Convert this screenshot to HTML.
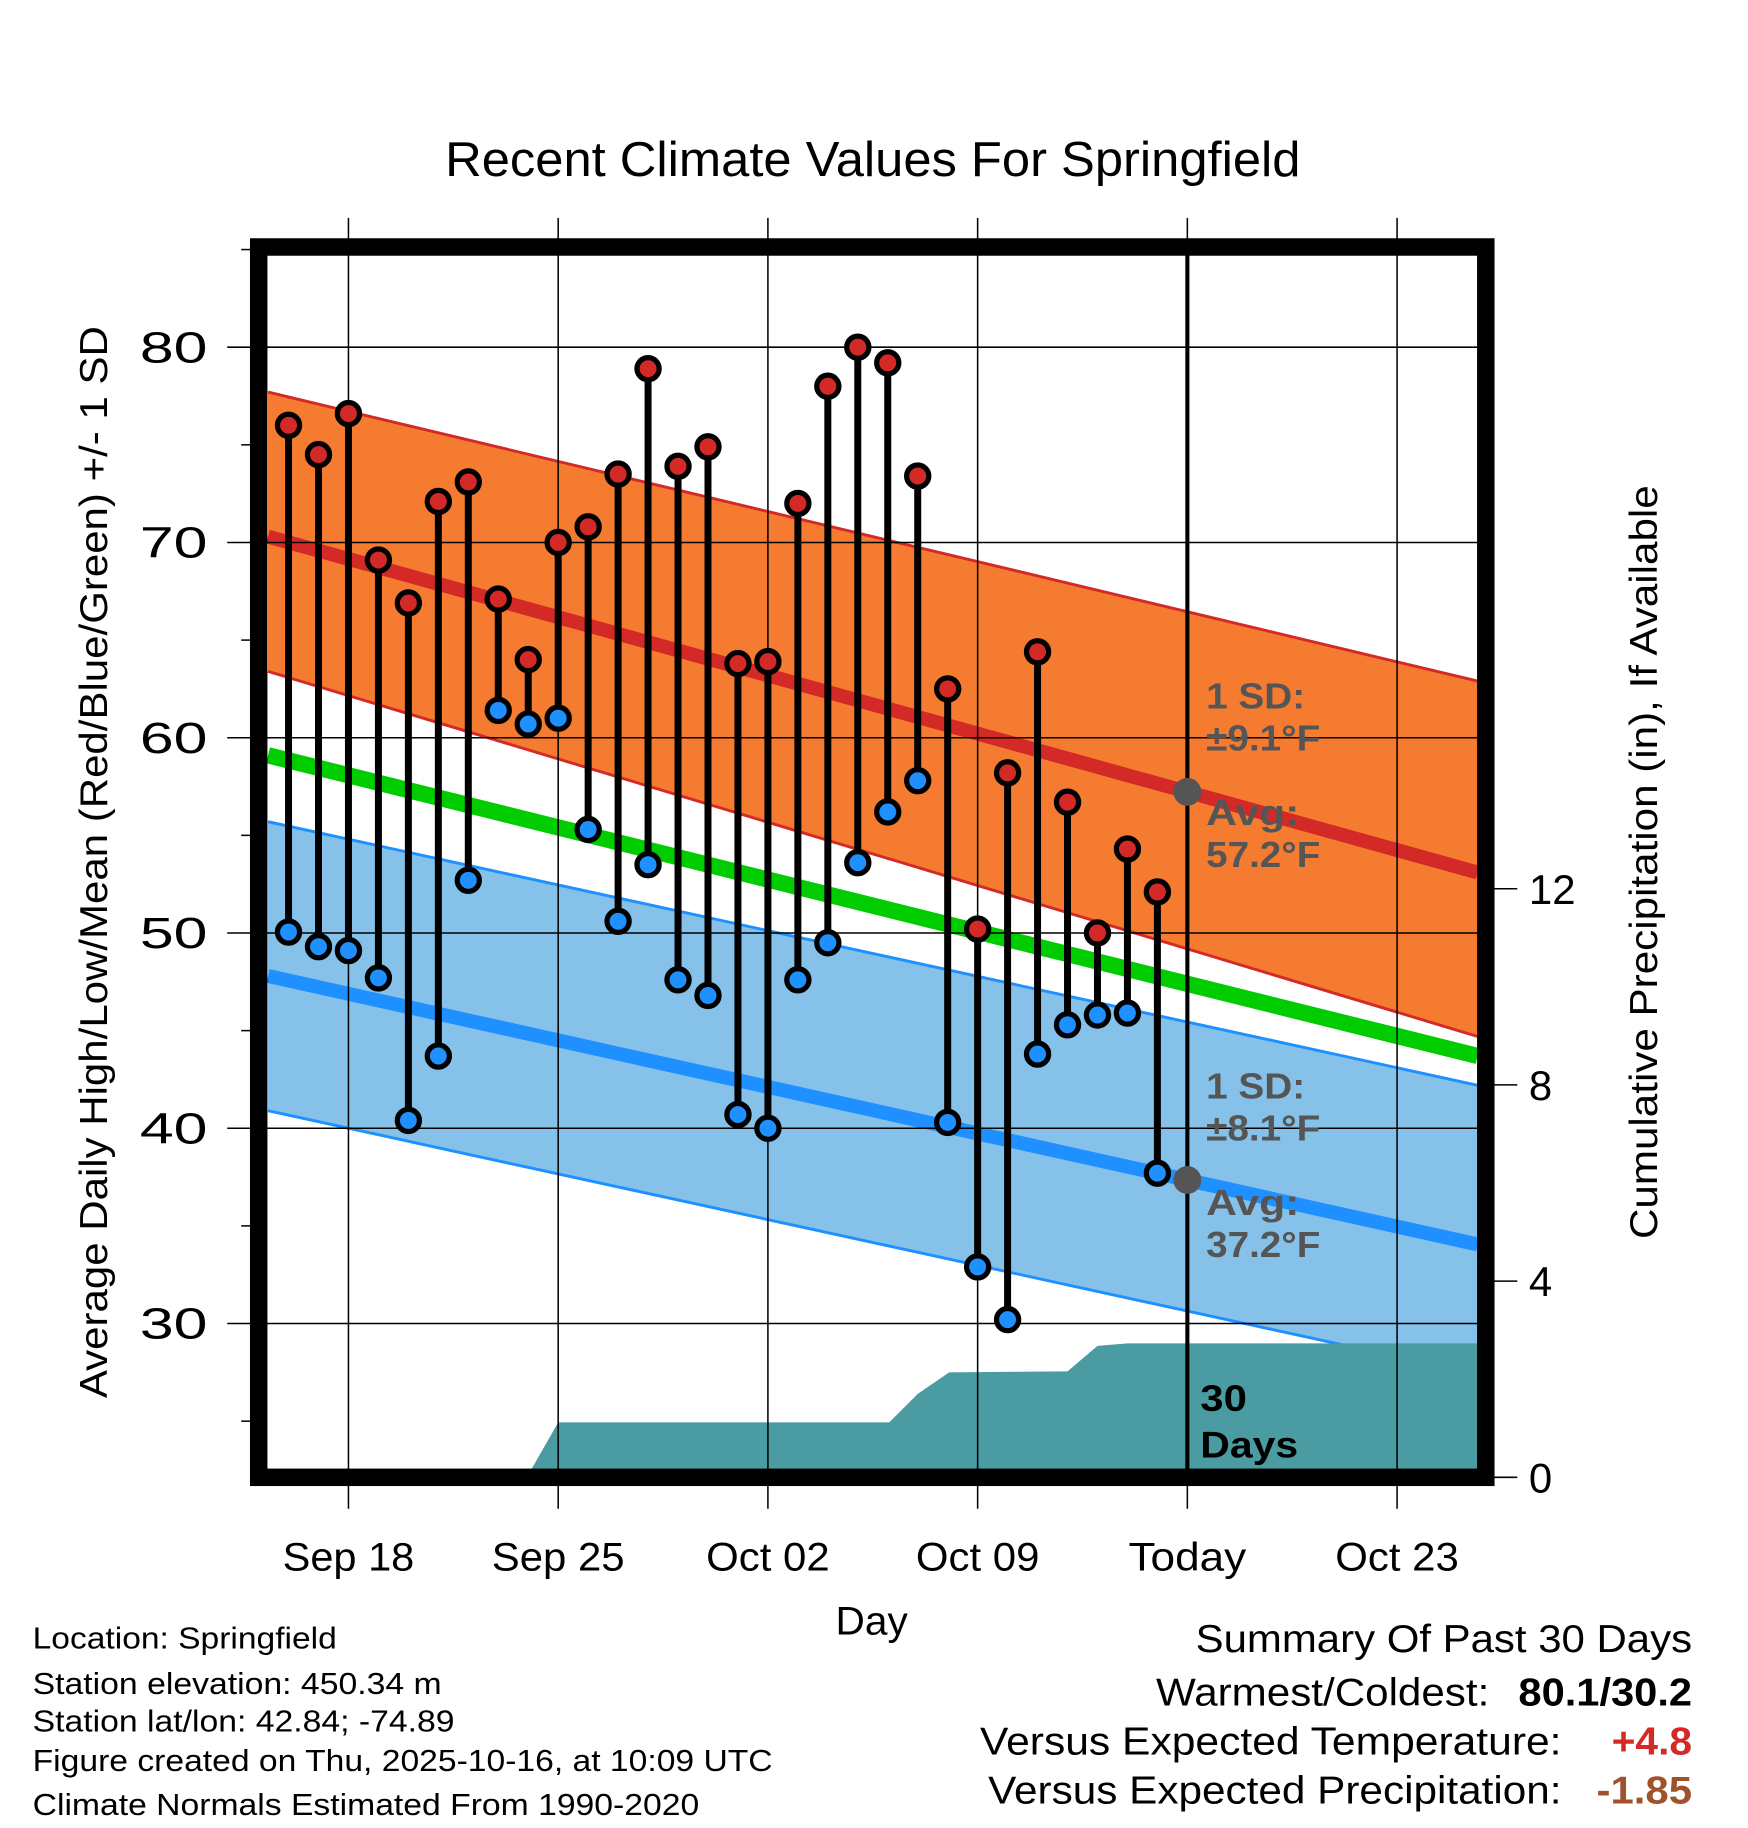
<!DOCTYPE html>
<html><head><meta charset="utf-8"><style>
html,body{margin:0;padding:0;background:#fff;}
svg{display:block;font-family:"Liberation Sans",sans-serif;}
</style></head><body>
<svg id="chart" width="1748" height="1828" viewBox="0 0 1500 1569" preserveAspectRatio="none" xmlns="http://www.w3.org/2000/svg">
<g id="plot"></g>
<text x="749" y="151" font-size="42" text-anchor="middle" textLength="734" lengthAdjust="spacingAndGlyphs">Recent Climate Values For Springfield</text>
<text transform="translate(92,740) rotate(-90)" font-size="33" text-anchor="middle" textLength="920" lengthAdjust="spacingAndGlyphs">Average Daily High/Low/Mean (Red/Blue/Green) +/- 1 SD</text>
<text transform="translate(1422,740) rotate(-90)" font-size="33" text-anchor="middle" textLength="647" lengthAdjust="spacingAndGlyphs">Cumulative Precipitation (in), If Available</text>
<text x="748" y="1403" font-size="34" text-anchor="middle" textLength="62" lengthAdjust="spacingAndGlyphs">Day</text>
<g font-size="26">
<text x="28" y="1415" textLength="261" lengthAdjust="spacingAndGlyphs">Location: Springfield</text>
<text x="28" y="1454" textLength="351" lengthAdjust="spacingAndGlyphs">Station elevation: 450.34 m</text>
<text x="28" y="1486" textLength="362" lengthAdjust="spacingAndGlyphs">Station lat/lon: 42.84; -74.89</text>
<text x="28" y="1520" textLength="635" lengthAdjust="spacingAndGlyphs">Figure created on Thu, 2025-10-16, at 10:09 UTC</text>
<text x="28" y="1558" textLength="572" lengthAdjust="spacingAndGlyphs">Climate Normals Estimated From 1990-2020</text>
</g>
<g font-size="33">
<text x="1452" y="1418" text-anchor="end" textLength="426" lengthAdjust="spacingAndGlyphs">Summary Of Past 30 Days</text>
<text x="1278" y="1464" text-anchor="end" textLength="286" lengthAdjust="spacingAndGlyphs">Warmest/Coldest:</text>
<text x="1452" y="1464" text-anchor="end" font-weight="bold" textLength="149" lengthAdjust="spacingAndGlyphs">80.1/30.2</text>
<text x="1340" y="1506" text-anchor="end" textLength="499" lengthAdjust="spacingAndGlyphs">Versus Expected Temperature:</text>
<text x="1452" y="1506" text-anchor="end" font-weight="bold" fill="#d42a27" textLength="69" lengthAdjust="spacingAndGlyphs">+4.8</text>
<text x="1340" y="1548" text-anchor="end" textLength="492" lengthAdjust="spacingAndGlyphs">Versus Expected Precipitation:</text>
<text x="1452" y="1548" text-anchor="end" font-weight="bold" fill="#a0522d" textLength="82" lengthAdjust="spacingAndGlyphs">-1.85</text>
</g>
</svg>
<script>
const highs=[76.0,74.5,76.6,69.1,66.9,72.1,73.1,67.1,64.0,70.0,70.8,73.5,78.9,73.9,74.9,63.8,63.9,72.0,78.0,80.0,79.2,73.4,62.5,50.2,58.2,64.4,56.7,50.0,54.3,52.1];
const lows=[50.05,49.3,49.1,47.7,40.4,43.7,52.7,61.4,60.7,61.0,55.3,50.6,53.5,47.6,46.8,40.7,40.0,47.6,49.5,53.6,56.2,57.8,40.3,32.9,30.2,43.8,45.3,45.8,45.9,37.7];
const normHigh=[70.3,53.1], normHighUp=[77.7,62.9], normHighLo=[63.4,44.7];
const normLow=[47.8,34.05], normLowUp=[55.7,42.2], normLowLo=[40.9,27.4];
const normMean=[59.1,43.7];
const precipDays=[-1.3,7.7,8.0,9.0,20.05,21.0,22.05,26.0,27.0,28.0,40.4];
const precipVals=[0,0,0.05,1.12,1.12,1.7,2.14,2.16,2.68,2.73,2.73];
const yTicks=[30,40,50,60,70,80];
const pTicks=[0,4,8,12];
const xTickDays=[2,9,16,23,30,37];
const xTickLabels=["Sep 18","Sep 25","Oct 02","Oct 09","Today","Oct 23"];
const xTickWidths=[113,114,106,106,101,106];
const NS="http://www.w3.org/2000/svg";
const L=230,R=1268,T=219,B=1261;
const dayX=d=>247.6+d*25.71;
const yT=v=>298+(80-v)*16.76;
const yP=p=>1268-p*42.1;
const g=document.getElementById('plot');
function mk(tag,attrs,parent){const e=document.createElementNS(NS,tag);for(const k in attrs)e.setAttribute(k,attrs[k]);(parent||g).appendChild(e);return e;}
function lin(a){return [[L,yT(a[0])],[R,yT(a[1])]];}
function band(up,lo,fill,stroke,name){
  const u=lin(up),l=lin(lo);
  const p=mk('polygon',{points:[...u,...l.slice().reverse()].map(q=>q.join(',')).join(' '),fill:fill});
  
  
  [u,l].forEach(s=>{const ln=mk('line',{x1:s[0][0],y1:s[0][1],x2:s[1][0],y2:s[1][1],stroke:stroke,'stroke-width':2.5});
    
    });
}
band(normHighUp,normHighLo,'#f57b30','#d42a27','high-sd-band');
band(normLowUp,normLowLo,'#85c1e9','#1e90ff','low-sd-band');
function thick(a,c,w,name){const s=lin(a);const ln=mk('line',{x1:s[0][0],y1:s[0][1],x2:s[1][0],y2:s[1][1],stroke:c,'stroke-width':w});
  
  }
thick(normHigh,'#d42a27',12,'normal-high-line');
thick(normLow,'#1e90ff',12,'normal-low-line');
thick(normMean,'#00cc00',14,'normal-mean-line');
let pts=precipDays.map((d,i)=>[Math.max(L,Math.min(R,dayX(d))),yP(precipVals[i])]);
pts=[[L,yP(0)],...pts,[R,yP(0)]];
const pa=mk('polygon',{points:pts.map(q=>q.join(',')).join(' '),fill:'#4a9ba2'});


yTicks.forEach(v=>{const ln=mk('line',{x1:195,x2:R,y1:yT(v),y2:yT(v),stroke:'#000','stroke-width':1.3});
  
  
  const t=mk('text',{x:178,y:yT(v)+13,'font-size':37,'text-anchor':'end',textLength:58,lengthAdjust:'spacingAndGlyphs'});t.textContent=v;
  
  });
for(let v=25;v<=85;v+=10){mk('line',{x1:207,x2:216,y1:yT(v),y2:yT(v),stroke:'#000','stroke-width':1.3});}
xTickDays.forEach((d,i)=>{const x=dayX(d);const ln=mk('line',{x1:x,x2:x,y1:187,y2:1295,stroke:'#000','stroke-width':1.3});
  
  
  const t=mk('text',{x:x,y:1348,'font-size':34,'text-anchor':'middle',textLength:xTickWidths[i],lengthAdjust:'spacingAndGlyphs'});t.textContent=xTickLabels[i];
  
  });
pTicks.forEach(p=>{mk('line',{x1:1282,x2:1302,y1:yP(p),y2:yP(p),stroke:'#000','stroke-width':1.3});
  const t=mk('text',{x:1312,y:yP(p)+13,'font-size':36});t.textContent=p;
  
  });
const tl=mk('line',{x1:dayX(30),x2:dayX(30),y1:T,y2:B,stroke:'#000','stroke-width':3.5});


[[normHigh,'±9.1°F','57.2°F',597],[normLow,'±8.1°F','37.2°F',932]].forEach(a=>{
  const yy=yT(a[0][0]+(a[0][1]-a[0][0])*(dayX(30)-L)/(R-L));
  const c=mk('circle',{cx:dayX(30),cy:yy,r:12,fill:'#555'});
  
  
  ['1 SD:',a[1],'Avg:',a[2]].forEach((s,i)=>{const t=mk('text',{x:1035,y:a[3]+11+[0,36,100,136][i],'font-size':31,'font-weight':'bold',fill:'#555',textLength:[85,98,80,98][i],lengthAdjust:'spacingAndGlyphs'});t.textContent=s;
    
    });
});
['30','Days'].forEach((s,i)=>{const t=mk('text',{x:1030,y:1211+i*40,'font-size':32,'font-weight':'bold',textLength:[40,84][i],lengthAdjust:'spacingAndGlyphs'});t.textContent=s;
  
  });
highs.forEach((h,i)=>{const x=dayX(i);
  const ln=mk('line',{x1:x,x2:x,y1:yT(h),y2:yT(lows[i]),stroke:'#000','stroke-width':6});
  
  
  const c1=mk('circle',{cx:x,cy:yT(h),r:9.5,fill:'#d42a27',stroke:'#000','stroke-width':4.5});
  
  
  const c2=mk('circle',{cx:x,cy:yT(lows[i]),r:9.5,fill:'#1e90ff',stroke:'#000','stroke-width':4.5});
  
  
});
const fr=mk('rect',{x:222,y:212,width:1053,height:1056,fill:'none',stroke:'#000','stroke-width':15});


</script>
</body></html>
